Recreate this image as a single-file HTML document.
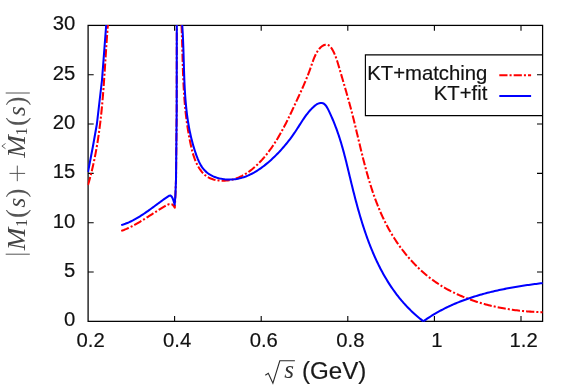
<!DOCTYPE html>
<html><head><meta charset="utf-8"><title>plot</title>
<style>
html,body{margin:0;padding:0;background:#fff;}
body{width:581px;height:387px;overflow:hidden;font-family:"Liberation Sans",sans-serif;}
svg{display:block;will-change:transform}
text{font-family:"Liberation Sans",sans-serif;font-size:20.3px;fill:#111;stroke:#111;stroke-width:0.18px}
.ser{font-family:"Liberation Serif",serif;stroke:none}
</style></head><body>
<svg width="581" height="387" viewBox="0 0 581 387">
<rect width="581" height="387" fill="#fff"/>
<defs><clipPath id="c"><rect x="87.5" y="24.799999999999997" width="455.7" height="297.15000000000003"/></clipPath></defs>
<g fill="none" stroke="#000" stroke-width="1.1"><path d="M174.6,321.35 V316.05 M174.6,25.4 V30.7"/><path d="M261.2,321.35 V316.05 M261.2,25.4 V30.7"/><path d="M347.8,321.35 V316.05 M347.8,25.4 V30.7"/><path d="M434.4,321.35 V316.05 M434.4,25.4 V30.7"/><path d="M521.0,321.35 V316.05 M521.0,25.4 V30.7"/><path d="M88.1,272.0 H93.69999999999999 M542.6,272.0 H537.0"/><path d="M88.1,222.7 H93.69999999999999 M542.6,222.7 H537.0"/><path d="M88.1,173.4 H93.69999999999999 M542.6,173.4 H537.0"/><path d="M88.1,124.0 H93.69999999999999 M542.6,124.0 H537.0"/><path d="M88.1,74.7 H93.69999999999999 M542.6,74.7 H537.0"/></g>
<g fill="none" stroke="#000" stroke-width="1.25">
<rect x="88.1" y="25.4" width="454.5" height="295.95000000000005"/>
</g>
<g clip-path="url(#c)" fill="none" stroke-width="2.05" stroke-linejoin="round">
<g stroke="#f00" stroke-dasharray="8.2 2.05 2.05 2.05">
<path d="M88.00,185.00 L88.42,183.55 L88.84,182.10 L89.25,180.65 L89.65,179.20 L90.04,177.75 L90.43,176.30 L90.81,174.84 L91.18,173.38 L91.55,171.93 L91.90,170.47 L92.25,169.01 L92.60,167.55 L92.93,166.08 L93.26,164.62 L93.59,163.15 L93.90,161.69 L94.22,160.22 L94.52,158.75 L94.82,157.29 L95.11,155.82 L95.40,154.34 L95.68,152.87 L95.95,151.40 L96.22,149.93 L96.48,148.45 L96.74,146.98 L96.99,145.50 L97.24,144.02 L97.48,142.54 L97.72,141.06 L97.95,139.58 L98.17,138.10 L98.39,136.62 L98.61,135.14 L98.82,133.66 L99.03,132.17 L99.23,130.69 L99.43,129.20 L99.62,127.72 L99.81,126.23 L100.00,124.74 L100.18,123.25 L100.36,121.77 L100.53,120.28 L100.70,118.79 L100.87,117.30 L101.03,115.81 L101.19,114.31 L101.35,112.82 L101.50,111.33 L101.65,109.84 L101.79,108.34 L101.94,106.85 L102.08,105.36 L102.22,103.86 L102.35,102.37 L102.48,100.87 L102.61,99.38 L102.74,97.88 L102.86,96.38 L102.99,94.89 L103.11,93.39 L103.23,91.89 L103.34,90.40 L103.46,88.90 L103.57,87.40 L103.68,85.90 L103.79,84.41 L103.90,82.91 L104.00,81.41 L104.11,79.91 L104.21,78.41 L104.32,76.91 L104.42,75.41 L104.52,73.92 L104.62,72.42 L104.72,70.92 L104.82,69.42 L104.92,67.92 L105.01,66.42 L105.11,64.92 L105.21,63.43 L105.30,61.93 L105.40,60.43 L105.50,58.93 L105.59,57.43 L105.69,55.93 L105.79,54.44 L105.89,52.94 L105.98,51.44 L106.08,49.95 L106.18,48.45 L106.28,46.95 L106.38,45.46 L106.48,43.96 L106.59,42.46 L106.69,40.97 L106.80,39.47 L106.90,37.98 L107.01,36.49 L107.12,34.99 L107.23,33.50 L107.34,32.01 L107.46,30.51 L107.58,29.02 L107.69,27.53 L107.81,26.04 L107.90,25.00"/>
<path d="M121.20,230.90 L122.53,230.44 L123.86,229.95 L125.20,229.42 L126.53,228.86 L127.87,228.26 L129.22,227.64 L130.56,226.99 L131.90,226.31 L133.25,225.61 L134.59,224.88 L135.93,224.14 L137.28,223.37 L138.62,222.59 L139.96,221.80 L141.29,220.99 L142.63,220.17 L143.96,219.34 L145.29,218.51 L146.62,217.67 L147.94,216.83 L149.25,215.98 L150.56,215.14 L151.87,214.30 L153.17,213.46 L154.46,212.63 L155.75,211.81 L157.03,210.99 L158.30,210.19 L159.56,209.41 L160.82,208.64 L162.07,207.88 L163.30,207.15 L164.53,206.44 L165.75,205.75 L166.95,205.09 L168.15,204.51 L169.32,204.11 L170.47,203.96 L171.60,204.16 L172.70,204.80 L173.76,205.97 L174.78,207.74 L174.80,207.80  L175.4,195.5 L176.0,180.0 L176.7,110.0 L176.8,25.0"/>
<path d="M181.50,25.00 L181.56,26.50 L181.63,28.01 L181.69,29.51 L181.74,31.02 L181.80,32.52 L181.85,34.02 L181.90,35.53 L181.95,37.03 L182.00,38.53 L182.05,40.03 L182.09,41.53 L182.14,43.04 L182.18,44.54 L182.22,46.04 L182.27,47.54 L182.31,49.04 L182.35,50.54 L182.39,52.04 L182.43,53.54 L182.47,55.04 L182.51,56.54 L182.56,58.04 L182.60,59.53 L182.64,61.03 L182.69,62.53 L182.73,64.03 L182.78,65.53 L182.82,67.02 L182.87,68.52 L182.92,70.02 L182.97,71.51 L183.03,73.01 L183.08,74.50 L183.14,76.00 L183.20,77.50 L183.27,78.99 L183.33,80.49 L183.40,81.98 L183.47,83.48 L183.55,84.97 L183.62,86.46 L183.70,87.96 L183.79,89.45 L183.88,90.94 L183.97,92.44 L184.06,93.93 L184.16,95.42 L184.27,96.92 L184.37,98.41 L184.49,99.90 L184.60,101.39 L184.73,102.88 L184.85,104.37 L184.99,105.86 L185.12,107.36 L185.27,108.85 L185.42,110.34 L185.57,111.83 L185.73,113.32 L185.90,114.81 L186.07,116.30 L186.25,117.78 L186.43,119.27 L186.62,120.76 L186.82,122.25 L187.03,123.74 L187.24,125.23 L187.46,126.72 L187.68,128.20 L187.92,129.69 L188.16,131.18 L188.41,132.67 L188.67,134.15 L188.93,135.64 L189.21,137.13 L189.49,138.61 L189.78,140.10 L190.08,141.58 L190.39,143.07 L190.70,144.56 L191.03,146.04 L191.37,147.52 L191.72,149.00 L192.09,150.48 L192.48,151.94 L192.89,153.40 L193.32,154.85 L193.78,156.29 L194.26,157.71 L194.78,159.13 L195.33,160.52 L195.91,161.90 L196.53,163.26 L197.18,164.60 L197.88,165.92 L198.62,167.21 L199.41,168.48 L200.25,169.72 L201.13,170.94 L202.07,172.11 L203.06,173.22 L204.11,174.27 L205.21,175.22 L206.37,176.10 L207.58,176.89 L208.84,177.61 L210.14,178.24 L211.48,178.80 L212.85,179.29 L214.26,179.70 L215.69,180.04 L217.15,180.31 L218.62,180.51 L220.12,180.65 L221.62,180.72 L223.14,180.73 L224.66,180.68 L226.18,180.56 L227.70,180.39 L229.22,180.16 L230.72,179.88 L232.21,179.55 L233.69,179.16 L235.14,178.72 L236.58,178.24 L237.98,177.71 L239.37,177.13 L240.74,176.51 L242.08,175.85 L243.41,175.14 L244.71,174.40 L245.99,173.63 L247.25,172.82 L248.50,171.97 L249.72,171.09 L250.92,170.19 L252.11,169.25 L253.27,168.29 L254.42,167.30 L255.55,166.29 L256.66,165.26 L257.75,164.21 L258.82,163.14 L259.88,162.05 L260.92,160.94 L261.95,159.83 L262.95,158.70 L263.95,157.56 L264.92,156.40 L265.88,155.24 L266.83,154.06 L267.76,152.87 L268.68,151.68 L269.58,150.47 L270.47,149.25 L271.34,148.03 L272.20,146.79 L273.05,145.55 L273.89,144.29 L274.71,143.03 L275.53,141.77 L276.33,140.49 L277.12,139.21 L277.90,137.92 L278.67,136.63 L279.43,135.33 L280.18,134.02 L280.92,132.71 L281.65,131.39 L282.37,130.07 L283.08,128.75 L283.79,127.42 L284.48,126.09 L285.17,124.76 L285.86,123.42 L286.53,122.09 L287.20,120.75 L287.87,119.40 L288.52,118.06 L289.17,116.72 L289.82,115.38 L290.46,114.03 L291.10,112.69 L291.73,111.35 L292.36,110.01 L292.99,108.67 L293.61,107.33 L294.23,105.99 L294.85,104.66 L295.46,103.33 L296.07,102.00 L296.68,100.68 L297.29,99.36 L297.90,98.04 L298.51,96.73 L299.12,95.41 L299.72,94.10 L300.32,92.78 L300.92,91.47 L301.52,90.14 L302.11,88.82 L302.71,87.48 L303.30,86.14 L303.89,84.80 L304.47,83.44 L305.05,82.07 L305.63,80.69 L306.21,79.30 L306.78,77.89 L307.35,76.46 L307.92,75.03 L308.48,73.57 L309.04,72.09 L309.59,70.60 L310.14,69.08 L310.69,67.54 L311.23,65.98 L311.78,64.42 L312.33,62.85 L312.89,61.28 L313.47,59.73 L314.06,58.21 L314.68,56.72 L315.33,55.27 L316.01,53.87 L316.73,52.53 L317.48,51.26 L318.29,50.06 L319.14,48.95 L320.05,47.94 L321.01,47.02 L322.04,46.22 L323.14,45.55 L324.27,45.03 L325.42,44.70 L326.56,44.60 L327.66,44.78 L328.70,45.25 L329.67,45.99 L330.57,46.95 L331.42,48.07 L332.22,49.33 L332.96,50.66 L333.66,52.04 L334.31,53.43 L334.93,54.86 L335.51,56.30 L336.06,57.76 L336.58,59.23 L337.08,60.72 L337.56,62.21 L338.02,63.71 L338.47,65.21 L338.91,66.71 L339.35,68.21 L339.79,69.70 L340.22,71.19 L340.65,72.67 L341.09,74.15 L341.52,75.63 L341.95,77.09 L342.38,78.56 L342.80,80.02 L343.23,81.47 L343.65,82.93 L344.07,84.38 L344.49,85.82 L344.91,87.27 L345.33,88.71 L345.74,90.15 L346.15,91.59 L346.56,93.02 L346.97,94.46 L347.38,95.89 L347.78,97.32 L348.18,98.75 L348.58,100.18 L348.98,101.61 L349.37,103.05 L349.76,104.48 L350.15,105.91 L350.53,107.34 L350.91,108.78 L351.29,110.21 L351.67,111.65 L352.04,113.09 L352.41,114.53 L352.78,115.97 L353.14,117.42 L353.50,118.86 L353.86,120.31 L354.22,121.76 L354.58,123.21 L354.93,124.66 L355.28,126.11 L355.64,127.56 L355.99,129.02 L356.33,130.47 L356.68,131.93 L357.03,133.39 L357.38,134.84 L357.73,136.30 L358.07,137.76 L358.42,139.22 L358.77,140.68 L359.12,142.14 L359.47,143.60 L359.82,145.06 L360.17,146.52 L360.52,147.98 L360.87,149.44 L361.23,150.90 L361.58,152.35 L361.94,153.81 L362.30,155.27 L362.67,156.73 L363.03,158.19 L363.40,159.64 L363.77,161.10 L364.15,162.55 L364.52,164.00 L364.90,165.46 L365.29,166.91 L365.68,168.36 L366.07,169.81 L366.46,171.25 L366.86,172.70 L367.27,174.14 L367.68,175.59 L368.09,177.03 L368.51,178.47 L368.94,179.90 L369.36,181.34 L369.80,182.77 L370.24,184.20 L370.69,185.63 L371.14,187.06 L371.60,188.48 L372.06,189.91 L372.54,191.33 L373.01,192.74 L373.50,194.16 L373.99,195.57 L374.49,196.98 L375.00,198.38 L375.52,199.79 L376.04,201.18 L376.57,202.58 L377.11,203.97 L377.66,205.36 L378.21,206.75 L378.78,208.13 L379.35,209.51 L379.94,210.89 L380.53,212.26 L381.13,213.63 L381.74,214.99 L382.36,216.35 L383.00,217.71 L383.64,219.06 L384.29,220.41 L384.95,221.75 L385.62,223.09 L386.31,224.43 L387.00,225.76 L387.71,227.08 L388.43,228.40 L389.16,229.72 L389.90,231.03 L390.65,232.34 L391.42,233.64 L392.20,234.93 L392.99,236.22 L393.79,237.51 L394.60,238.79 L395.43,240.06 L396.27,241.33 L397.12,242.59 L397.98,243.84 L398.86,245.09 L399.74,246.33 L400.64,247.56 L401.55,248.79 L402.47,250.00 L403.40,251.21 L404.35,252.41 L405.30,253.60 L406.26,254.78 L407.24,255.96 L408.22,257.12 L409.22,258.27 L410.23,259.42 L411.24,260.55 L412.27,261.67 L413.31,262.78 L414.36,263.88 L415.41,264.97 L416.48,266.05 L417.56,267.12 L418.65,268.17 L419.74,269.21 L420.85,270.24 L421.96,271.25 L423.09,272.26 L424.22,273.25 L425.36,274.22 L426.51,275.19 L427.67,276.13 L428.84,277.07 L430.02,277.99 L431.20,278.89 L432.39,279.78 L433.60,280.65 L434.81,281.51 L436.02,282.35 L437.25,283.18 L438.48,284.00 L439.72,284.79 L440.97,285.58 L442.23,286.35 L443.49,287.11 L444.76,287.85 L446.04,288.58 L447.33,289.29 L448.62,289.99 L449.92,290.68 L451.23,291.36 L452.54,292.02 L453.86,292.67 L455.18,293.30 L456.51,293.93 L457.85,294.54 L459.20,295.14 L460.55,295.73 L461.90,296.31 L463.26,296.87 L464.63,297.43 L466.01,297.97 L467.38,298.50 L468.77,299.02 L470.16,299.53 L471.55,300.03 L472.95,300.52 L474.36,300.99 L475.77,301.46 L477.18,301.91 L478.60,302.36 L480.02,302.79 L481.45,303.21 L482.88,303.63 L484.32,304.03 L485.76,304.42 L487.20,304.80 L488.65,305.17 L490.10,305.53 L491.56,305.88 L493.02,306.22 L494.48,306.55 L495.95,306.87 L497.42,307.18 L498.89,307.48 L500.37,307.77 L501.85,308.05 L503.33,308.33 L504.81,308.59 L506.30,308.84 L507.79,309.08 L509.28,309.32 L510.77,309.54 L512.27,309.75 L513.77,309.96 L515.27,310.16 L516.77,310.34 L518.28,310.52 L519.78,310.69 L521.29,310.85 L522.80,311.00 L524.31,311.15 L525.82,311.28 L527.34,311.41 L528.85,311.52 L530.36,311.63 L531.88,311.73 L533.40,311.82 L534.91,311.91 L536.43,311.98 L537.95,312.05 L539.47,312.10 L540.99,312.16 L542.51,312.20 L542.60,312.20"/>
</g>
<g stroke="#00f">
<path d="M88.0,172.0 L92.9,146.5 L96.9,124.0 L102.0,80.0 L106.2,25.0"/>
<path d="M121.20,225.10 L122.55,224.72 L123.90,224.30 L125.26,223.83 L126.61,223.31 L127.96,222.76 L129.31,222.17 L130.66,221.54 L132.00,220.88 L133.35,220.19 L134.69,219.46 L136.03,218.71 L137.36,217.93 L138.69,217.13 L140.02,216.31 L141.34,215.47 L142.65,214.61 L143.96,213.74 L145.26,212.85 L146.56,211.95 L147.85,211.04 L149.13,210.13 L150.40,209.21 L151.66,208.29 L152.92,207.37 L154.16,206.46 L155.39,205.54 L156.62,204.63 L157.83,203.73 L159.03,202.85 L160.22,201.97 L161.40,201.11 L162.57,200.26 L163.72,199.43 L164.86,198.63 L165.98,197.85 L167.09,197.09 L168.19,196.36 L169.26,195.71 L170.31,195.48 L171.29,196.06 L172.19,197.41 L172.99,199.22 L173.66,201.18 L174.19,202.95 L174.54,204.22 L174.65,204.60  L175.4,195.5 L176.0,180.0 L176.7,110.0 L176.8,25.0"/>
<path d="M182.20,25.00 L182.31,26.49 L182.41,27.98 L182.50,29.48 L182.59,30.97 L182.68,32.47 L182.76,33.96 L182.83,35.46 L182.91,36.95 L182.98,38.45 L183.04,39.95 L183.10,41.45 L183.16,42.95 L183.22,44.45 L183.28,45.95 L183.33,47.45 L183.38,48.95 L183.43,50.45 L183.47,51.95 L183.52,53.46 L183.56,54.96 L183.61,56.46 L183.65,57.96 L183.69,59.47 L183.73,60.97 L183.77,62.47 L183.82,63.98 L183.86,65.48 L183.90,66.98 L183.95,68.49 L183.99,69.99 L184.04,71.49 L184.09,73.00 L184.14,74.50 L184.19,76.00 L184.25,77.50 L184.30,79.00 L184.36,80.51 L184.43,82.01 L184.49,83.51 L184.56,85.01 L184.64,86.51 L184.71,88.01 L184.80,89.51 L184.88,91.00 L184.97,92.50 L185.07,94.00 L185.17,95.49 L185.28,96.99 L185.39,98.48 L185.51,99.98 L185.63,101.47 L185.76,102.96 L185.90,104.45 L186.04,105.94 L186.19,107.43 L186.35,108.92 L186.51,110.41 L186.68,111.89 L186.86,113.38 L187.05,114.86 L187.25,116.35 L187.46,117.83 L187.67,119.31 L187.89,120.79 L188.13,122.26 L188.37,123.74 L188.62,125.21 L188.88,126.69 L189.15,128.16 L189.43,129.63 L189.73,131.10 L190.03,132.56 L190.35,134.03 L190.67,135.49 L191.01,136.96 L191.36,138.42 L191.72,139.87 L192.10,141.33 L192.48,142.79 L192.88,144.24 L193.29,145.69 L193.72,147.14 L194.16,148.59 L194.61,150.03 L195.08,151.48 L195.56,152.92 L196.05,154.36 L196.56,155.79 L197.10,157.22 L197.65,158.63 L198.24,160.02 L198.85,161.40 L199.50,162.75 L200.19,164.06 L200.92,165.35 L201.70,166.59 L202.53,167.80 L203.42,168.96 L204.36,170.06 L205.36,171.11 L206.42,172.11 L207.56,173.04 L208.76,173.90 L210.03,174.70 L211.35,175.44 L212.72,176.11 L214.14,176.72 L215.59,177.27 L217.07,177.75 L218.58,178.18 L220.10,178.55 L221.64,178.86 L223.18,179.11 L224.72,179.31 L226.25,179.45 L227.77,179.53 L229.28,179.56 L230.78,179.54 L232.26,179.47 L233.74,179.34 L235.20,179.17 L236.64,178.95 L238.08,178.68 L239.50,178.37 L240.91,178.02 L242.31,177.62 L243.70,177.18 L245.07,176.70 L246.44,176.18 L247.79,175.63 L249.13,175.04 L250.46,174.41 L251.78,173.75 L253.08,173.06 L254.38,172.34 L255.66,171.58 L256.93,170.80 L258.19,169.99 L259.44,169.15 L260.68,168.29 L261.91,167.41 L263.13,166.50 L264.34,165.58 L265.53,164.63 L266.72,163.66 L267.89,162.68 L269.06,161.68 L270.21,160.67 L271.35,159.64 L272.49,158.60 L273.61,157.54 L274.72,156.47 L275.82,155.39 L276.90,154.30 L277.98,153.20 L279.04,152.08 L280.09,150.96 L281.13,149.82 L282.16,148.68 L283.17,147.53 L284.17,146.37 L285.16,145.20 L286.13,144.02 L287.09,142.84 L288.04,141.65 L288.97,140.46 L289.89,139.26 L290.79,138.05 L291.68,136.85 L292.56,135.64 L293.42,134.42 L294.26,133.20 L295.09,131.98 L295.91,130.76 L296.71,129.54 L297.49,128.32 L298.27,127.10 L299.05,125.88 L299.82,124.66 L300.59,123.44 L301.37,122.22 L302.16,121.01 L302.96,119.80 L303.77,118.59 L304.60,117.39 L305.46,116.19 L306.34,114.99 L307.25,113.81 L308.19,112.63 L309.17,111.45 L310.18,110.28 L311.24,109.12 L312.34,107.99 L313.47,106.91 L314.62,105.90 L315.80,104.99 L316.99,104.21 L318.19,103.59 L319.38,103.15 L320.57,102.92 L321.73,102.92 L322.83,103.18 L323.86,103.72 L324.83,104.50 L325.73,105.50 L326.57,106.67 L327.37,107.97 L328.13,109.38 L328.86,110.85 L329.57,112.35 L330.25,113.84 L330.92,115.32 L331.58,116.80 L332.22,118.28 L332.84,119.75 L333.45,121.22 L334.04,122.68 L334.62,124.13 L335.19,125.59 L335.74,127.04 L336.28,128.48 L336.81,129.93 L337.33,131.37 L337.83,132.80 L338.32,134.24 L338.81,135.67 L339.28,137.10 L339.74,138.53 L340.19,139.96 L340.63,141.39 L341.07,142.82 L341.49,144.24 L341.91,145.67 L342.32,147.10 L342.72,148.52 L343.12,149.95 L343.51,151.37 L343.89,152.79 L344.27,154.22 L344.64,155.64 L345.01,157.07 L345.38,158.50 L345.74,159.92 L346.09,161.35 L346.45,162.78 L346.80,164.21 L347.15,165.64 L347.49,167.07 L347.84,168.50 L348.18,169.93 L348.53,171.37 L348.87,172.81 L349.22,174.25 L349.56,175.69 L349.91,177.13 L350.26,178.57 L350.60,180.02 L350.96,181.47 L351.31,182.92 L351.66,184.37 L352.02,185.82 L352.38,187.28 L352.74,188.73 L353.10,190.19 L353.47,191.65 L353.84,193.11 L354.21,194.56 L354.59,196.02 L354.96,197.48 L355.34,198.95 L355.73,200.41 L356.12,201.87 L356.51,203.33 L356.90,204.79 L357.30,206.25 L357.70,207.71 L358.11,209.17 L358.52,210.63 L358.93,212.09 L359.35,213.54 L359.78,215.00 L360.20,216.46 L360.64,217.91 L361.07,219.36 L361.52,220.82 L361.96,222.26 L362.42,223.71 L362.87,225.16 L363.34,226.60 L363.81,228.05 L364.28,229.49 L364.76,230.92 L365.25,232.36 L365.74,233.79 L366.24,235.22 L366.74,236.65 L367.25,238.07 L367.77,239.49 L368.29,240.91 L368.82,242.32 L369.36,243.74 L369.91,245.14 L370.46,246.55 L371.02,247.95 L371.58,249.34 L372.16,250.73 L372.74,252.12 L373.32,253.51 L373.92,254.89 L374.52,256.26 L375.14,257.63 L375.76,258.99 L376.39,260.36 L377.02,261.71 L377.67,263.06 L378.32,264.40 L378.98,265.74 L379.66,267.08 L380.34,268.41 L381.03,269.73 L381.72,271.04 L382.43,272.36 L383.15,273.66 L383.88,274.96 L384.61,276.25 L385.36,277.53 L386.12,278.81 L386.88,280.08 L387.66,281.35 L388.45,282.61 L389.24,283.86 L390.05,285.10 L390.87,286.34 L391.70,287.57 L392.54,288.79 L393.39,290.00 L394.25,291.21 L395.12,292.40 L396.01,293.59 L396.90,294.77 L397.81,295.95 L398.73,297.11 L399.66,298.27 L400.60,299.41 L401.56,300.55 L402.53,301.68 L403.50,302.80 L404.50,303.91 L405.50,305.02 L406.52,306.11 L407.55,307.19 L408.59,308.26 L409.64,309.33 L410.71,310.38 L411.79,311.42 L412.89,312.46 L414.00,313.48 L415.12,314.49 L416.26,315.49 L417.40,316.48 L418.57,317.46 L419.75,318.43 L420.94,319.39 L422.14,320.34 L423.36,321.27 L423.40,321.30" stroke-linejoin="miter"/>
<path d="M423.40,321.30 L424.63,320.42 L425.86,319.56 L427.11,318.72 L428.36,317.88 L429.62,317.06 L430.88,316.25 L432.15,315.46 L433.43,314.67 L434.72,313.91 L436.01,313.15 L437.31,312.40 L438.61,311.67 L439.92,310.95 L441.24,310.25 L442.56,309.55 L443.89,308.87 L445.22,308.19 L446.56,307.53 L447.91,306.89 L449.26,306.25 L450.62,305.62 L451.98,305.01 L453.35,304.40 L454.72,303.81 L456.09,303.23 L457.48,302.65 L458.86,302.09 L460.25,301.54 L461.65,301.00 L463.05,300.47 L464.45,299.95 L465.86,299.44 L467.27,298.94 L468.69,298.44 L470.11,297.96 L471.53,297.49 L472.96,297.02 L474.39,296.57 L475.82,296.12 L477.26,295.68 L478.70,295.26 L480.14,294.84 L481.59,294.42 L483.04,294.02 L484.49,293.62 L485.95,293.24 L487.40,292.86 L488.86,292.49 L490.32,292.12 L491.79,291.76 L493.25,291.41 L494.72,291.07 L496.19,290.74 L497.66,290.41 L499.13,290.09 L500.61,289.77 L502.08,289.47 L503.56,289.16 L505.04,288.87 L506.52,288.58 L508.00,288.30 L509.48,288.02 L510.96,287.75 L512.44,287.48 L513.92,287.22 L515.41,286.97 L516.89,286.72 L518.37,286.47 L519.86,286.24 L521.34,286.00 L522.82,285.77 L524.30,285.55 L525.79,285.33 L527.27,285.11 L528.75,284.90 L530.23,284.69 L531.71,284.49 L533.19,284.29 L534.67,284.09 L536.14,283.90 L537.62,283.71 L539.09,283.53 L540.57,283.35 L542.04,283.17 L542.60,283.10"/>
</g>
</g>
<path d="M542.6,54.9 H365.4 V115.6 H542.6" fill="none" stroke="#000" stroke-width="1.15"/>
<text x="487.3" y="80.0" text-anchor="end">KT+matching</text>
<text x="487.3" y="100.4" text-anchor="end">KT+fit</text>
<path d="M499.3,75.3 H531.1" stroke="#f00" stroke-width="2" stroke-dasharray="8.2 2.05 2.05 2.05" fill="none"/>
<path d="M499.3,95.9 H531.1" stroke="#00f" stroke-width="2" fill="none"/>
<text x="90.6" y="347" text-anchor="middle">0.2</text><text x="177.2" y="347" text-anchor="middle">0.4</text><text x="263.8" y="347" text-anchor="middle">0.6</text><text x="350.4" y="347" text-anchor="middle">0.8</text><text x="437.0" y="347" text-anchor="middle">1</text><text x="523.6" y="347" text-anchor="middle">1.2</text><text x="75.4" y="326.4" text-anchor="end">0</text><text x="75.4" y="277.0" text-anchor="end">5</text><text x="75.4" y="227.7" text-anchor="end">10</text><text x="75.4" y="178.4" text-anchor="end">15</text><text x="75.4" y="129.0" text-anchor="end">20</text><text x="75.4" y="79.7" text-anchor="end">25</text><text x="75.4" y="30.4" text-anchor="end">30</text>
<!-- x label -->
<g>
<path d="M265.3,375.2 L268.3,373.2 L272.9,383.2 L279.8,360.8 H294.9" fill="none" stroke="#2a2a2a" stroke-width="1.1" stroke-linejoin="miter"/>
<text class="ser" x="284.3" y="378" style="font-size:25px;font-style:italic;fill:#333">s</text>
<text x="302" y="378.6" style="font-size:24.15px;fill:#1a1a1a">(GeV)</text>
</g>
<!-- y label -->
<g transform="translate(24.5,254.2) rotate(-90)">
<path d="M0,5.3 V-18.8 M161.2,5.3 V-18.8" stroke="#555" stroke-width="1" fill="none"/>
<path d="M73,-7.2 H88.6 M80.8,-15 V0.6" stroke="#555" stroke-width="1" fill="none"/>
<path d="M105.5,-19.0 L108.1,-22.6 L110.7,-19.0" stroke="#555" stroke-width="0.9" fill="none"/>
<g class="ser">
<text class="ser" x="4.0" y="0" textLength="22.6" lengthAdjust="spacingAndGlyphs" style="font-size:25px;font-style:italic;fill:#444">M</text>
<text class="ser" x="27.2" y="2.4" style="font-size:16px;fill:#444">1</text>
<text class="ser" x="36.2" y="0.6" style="font-size:27px;fill:#555">(</text>
<text class="ser" x="46.6" y="0" style="font-size:25px;font-style:italic;fill:#444">s</text>
<text class="ser" x="56.6" y="0.6" style="font-size:27px;fill:#555">)</text>
<text class="ser" x="96.5" y="0" textLength="22.6" lengthAdjust="spacingAndGlyphs" style="font-size:25px;font-style:italic;fill:#444">M</text>
<text class="ser" x="118.8" y="2.4" style="font-size:16px;fill:#444">1</text>
<text class="ser" x="128.2" y="0.6" style="font-size:27px;fill:#555">(</text>
<text class="ser" x="138.3" y="0" style="font-size:25px;font-style:italic;fill:#444">s</text>
<text class="ser" x="148.6" y="0.6" style="font-size:27px;fill:#555">)</text>
</g>
</g>
</svg>
</body></html>
